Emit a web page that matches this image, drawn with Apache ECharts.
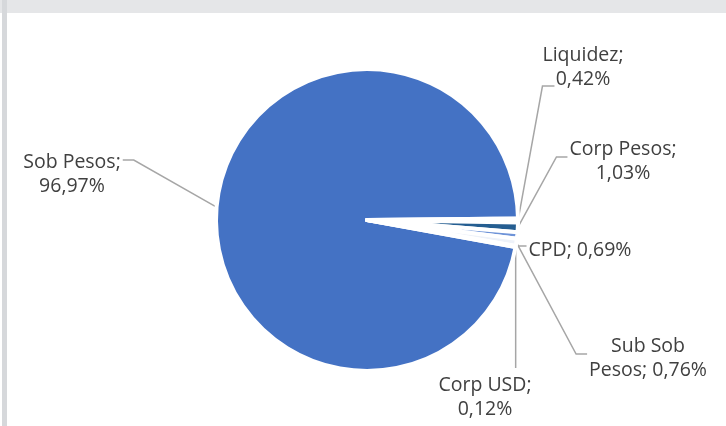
<!DOCTYPE html>
<html>
<head>
<meta charset="utf-8">
<script src="https://cdn.jsdelivr.net/npm/echarts@6/dist/echarts.min.js"></script>
<style>
html,body{margin:0;padding:0;background:#fff;}
#chart{width:726px;height:426px;}
</style>
</head>
<body>
<div id="chart"></div>
<script>
// Data
const categories = ['Sob Pesos', 'Liquidez', 'Corp Pesos', 'CPD', 'Sub Sob Pesos', 'Corp USD'];
const values = [96.97, 0.42, 1.03, 0.69, 0.76, 0.12];
// word index after which the label wraps (0 = no wrap)
const wrapAfter = [2, 1, 2, 0, 2, 2];

// Layout / style (kept separate from data)
const sliceColors = ['#4472C4', '#B4C7E7', '#255E91', '#6E93D8', '#EEF2F9', '#8FAADC'];
// label centre and where its leader line attaches
const labelAnchor = [
  [72, 174, 'right'], [583, 67, 'leftBottom'], [623, 161, 'left'],
  [580, 250, 'left'], [648, 358, 'left'], [485, 397, 'top']
];

function fmt(v) { return v.toFixed(2).replace('.', ',') + '%'; }

const chart = echarts.init(document.getElementById('chart'), null, {renderer: 'canvas'});
chart.setOption({
  backgroundColor: '#ffffff',
  animation: false,
  graphic: [
    {type: 'rect', shape: {x: 0, y: 0, width: 726, height: 13}, style: {fill: '#E5E6E8'}, z: 10},
    {type: 'rect', shape: {x: 2, y: 0, width: 5, height: 426}, style: {fill: '#D6D8DB'}, z: 11}
  ],
  series: [{
    type: 'pie',
    center: [367, 220],
    radius: [0, 151],
    startAngle: -10.3,
    clockwise: true,
    avoidLabelOverlap: false,
    data: categories.map((c, i) => ({
      name: c,
      value: values[i],
      itemStyle: {color: sliceColors[i]}
    })),
    itemStyle: {borderColor: '#ffffff', borderWidth: 4},
    label: {
      show: true,
      position: 'outside',
      fontFamily: 'Open Sans',
      fontSize: 19.5,
      lineHeight: 24,
      color: '#404040',
      align: 'center',
      formatter: (p) => {
        const words = (p.name + '; ' + fmt(p.value)).split(' ');
        const k = wrapAfter[p.dataIndex];
        if (!k) return words.join(' ');
        return words.slice(0, k).join(' ') + '\n' + words.slice(k).join(' ');
      }
    },
    labelLine: {
      show: true,
      length: 10,
      length2: 12,
      smooth: false,
      lineStyle: {color: '#A6A6A6', width: 1.5}
    },
    labelLayout: (params) => {
      const a = labelAnchor[params.dataIndex];
      const w = params.labelRect.width, h = params.labelRect.height;
      const left = a[0] - w / 2, right = a[0] + w / 2;
      const top = a[1] - h / 2, bottom = a[1] + h / 2;
      const p0 = params.labelLinePoints ? params.labelLinePoints[0] : null;
      let pts;
      if (p0) {
        const e = [p0[0], p0[1]];
        if (a[2] === 'right') {
          const p2 = [right + 2, top + 10];
          pts = [e, [p2[0] + 11, p2[1]], p2];
        } else if (a[2] === 'leftBottom') {
          const p2 = [left + 12, bottom - 5];
          pts = [e, [left, p2[1]], p2];
        } else if (a[2] === 'left') {
          const p2 = [left - 2, a[1] - 4];
          pts = [e, [p2[0] - 11, p2[1]], p2];
        } else {
          pts = [e, [e[0], top - 5]];
        }
      }
      const res = {x: a[0], y: a[1], align: 'center', verticalAlign: 'middle'};
      if (pts) res.labelLinePoints = pts;
      return res;
    },
    emphasis: {disabled: true}
  }]
});
</script>
</body>
</html>
